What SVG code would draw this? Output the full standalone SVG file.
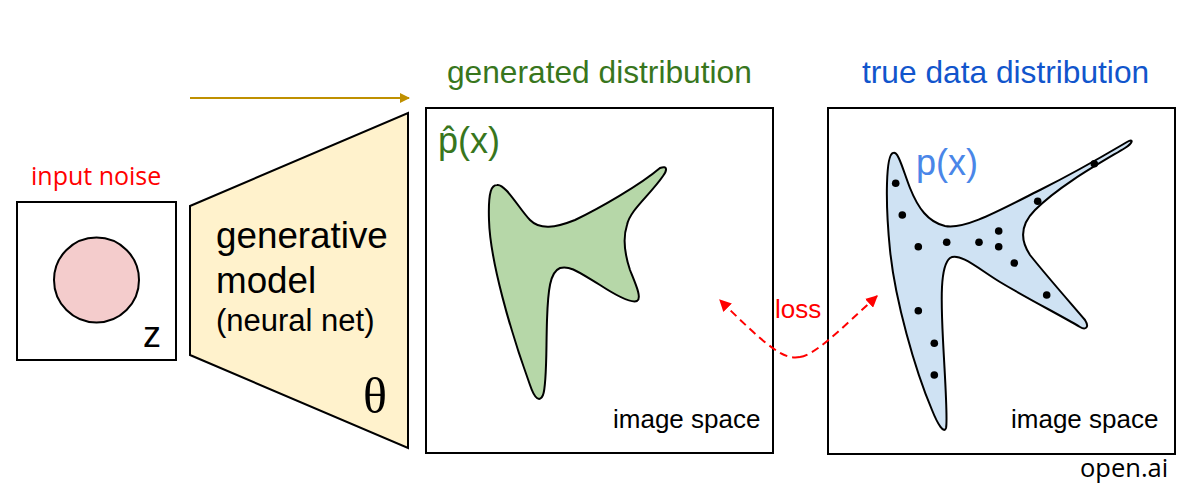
<svg xmlns="http://www.w3.org/2000/svg" width="1178" height="490" viewBox="0 0 1178 490">
<defs>
<style>
.box{fill:#fff;stroke:#000;stroke-width:2}
.blob{stroke:#000;stroke-width:2}
.arial{font-family:"Liberation Sans",Arial,sans-serif}
.open{font-family:"Open Sans","Noto Sans",sans-serif}
.dot{fill:#000}
</style>
<marker id="gold" viewBox="0 0 10 10" refX="9" refY="5" markerWidth="14" markerHeight="10" markerUnits="userSpaceOnUse" orient="auto"><path d="M0,0 L10,5 L0,10 Z" fill="#bf9000"/></marker>
<marker id="red" viewBox="0 0 10 10" refX="9" refY="5" markerWidth="12" markerHeight="12" markerUnits="userSpaceOnUse" orient="auto"><path d="M0,0 L10,5 L0,10 Z" fill="#ff0000"/></marker>
</defs>
<rect width="1178" height="490" fill="#fff"/>

<g id="input-noise">
<text class="open" x="31" y="185" font-size="25" fill="#ff0000">input noise</text>
<rect class="box" x="17" y="202" width="159" height="158"/>
<circle cx="96.5" cy="280" r="42.5" fill="#f4cccc" stroke="#000" stroke-width="2"/>
<text class="arial" x="143" y="347" font-size="36" fill="#000">z</text>
</g>

<g id="generator">
<path d="M190,206 L408,113 L408,448 L190,355 Z" fill="#fff2cc" stroke="#000" stroke-width="2" stroke-linejoin="miter"/>
<text class="arial" x="216" y="248" font-size="36.8" fill="#000">generative</text>
<text class="arial" x="216" y="293" font-size="36.8" fill="#000">model</text>
<text class="arial" x="216" y="331" font-size="31" fill="#000">(neural net)</text>
<text x="363" y="413" font-family="'Liberation Serif','Times New Roman',serif" font-size="50" fill="#000">θ</text>
</g>

<g id="generated">
<text class="arial" x="447" y="83" font-size="31.7" fill="#38761d">generated distribution</text>
<rect class="box" x="426" y="108" width="347" height="345"/>
<text class="arial" x="438" y="153" font-size="36" fill="#38761d">p̂(x)</text>
<path class="blob" fill="#b6d7a8" d="M497,185 C505,183 520,210 530,220 C540,230 555,228 575,220 C600,208 640,185 660,168 C668,165 667,171 663,176 C650,195 630,210 627,225 C622,240 625,255 630,270 C636,285 642,298 637,301 C632,303 620,298 600,285 C580,273 570,265 560,268 C550,272 548,290 547,320 C546,350 547,385 543,395 C540,402 535,400 530,385 C510,330 490,260 489,220 C488,190 492,185 497,185 Z"/>
<text class="arial" x="613" y="428" font-size="26" fill="#000">image space</text>
</g>

<g id="true-data">
<text class="arial" x="862" y="83" font-size="31.7" fill="#1155cc">true data distribution</text>
<rect class="box" x="828" y="108" width="347" height="346"/>
<path class="blob" fill="#cfe2f3" d="M893,153 C898,150 903,170 910,188 C918,208 928,222 945,226 C965,230 1000,210 1040,190 C1080,170 1110,152 1127,142 C1134,138 1133,143 1125,148 C1100,163 1060,185 1035,210 C1020,225 1020,240 1030,255 C1050,280 1075,308 1085,320 C1090,328 1085,330 1080,327 C1060,315 1030,300 1000,282 C980,270 960,252 950,258 C940,266 941,300 943,340 C945,380 948,420 946,428 C944,434 938,425 932,410 C915,370 895,300 890,250 C885,200 886,155 893,153 Z"/>
<text class="arial" x="916" y="175" font-size="36" fill="#4a86e8">p(x)</text>
<g class="dot">
<circle cx="895.7" cy="183.3" r="3.8"/>
<circle cx="902.3" cy="215" r="3.8"/>
<circle cx="918.3" cy="246.7" r="3.8"/>
<circle cx="946.7" cy="242.3" r="3.8"/>
<circle cx="979" cy="242.3" r="3.8"/>
<circle cx="998.7" cy="231" r="3.8"/>
<circle cx="998.7" cy="246.7" r="3.8"/>
<circle cx="1014.3" cy="263" r="3.8"/>
<circle cx="1037.7" cy="201.3" r="3.8"/>
<circle cx="1094.3" cy="163.7" r="3.8"/>
<circle cx="1046.7" cy="295" r="3.8"/>
<circle cx="918.3" cy="310.7" r="3.8"/>
<circle cx="934.3" cy="343.3" r="3.8"/>
<circle cx="934.3" cy="375" r="3.8"/>
</g>
<text class="arial" x="1011" y="428" font-size="26" fill="#000">image space</text>
</g>

<g id="connectors">
<line x1="190" y1="98" x2="409" y2="98" stroke="#bf9000" stroke-width="2" marker-end="url(#gold)"/>
<path d="M800,357 C785,360 770,350 720,300" fill="none" stroke="#ff0000" stroke-width="2" stroke-dasharray="8,5" marker-end="url(#red)"/>
<path d="M800,357 C815,355 840,330 877,296" fill="none" stroke="#ff0000" stroke-width="2" stroke-dasharray="8,5" marker-end="url(#red)"/>
</g>

<g id="loss-label">
<text class="arial" x="775" y="318" font-size="26" fill="#ff0000">loss</text>
</g>

<g id="credit">
<text class="open" x="1080" y="477" font-size="25.5" fill="#000">open.ai</text>
</g>
</svg>
